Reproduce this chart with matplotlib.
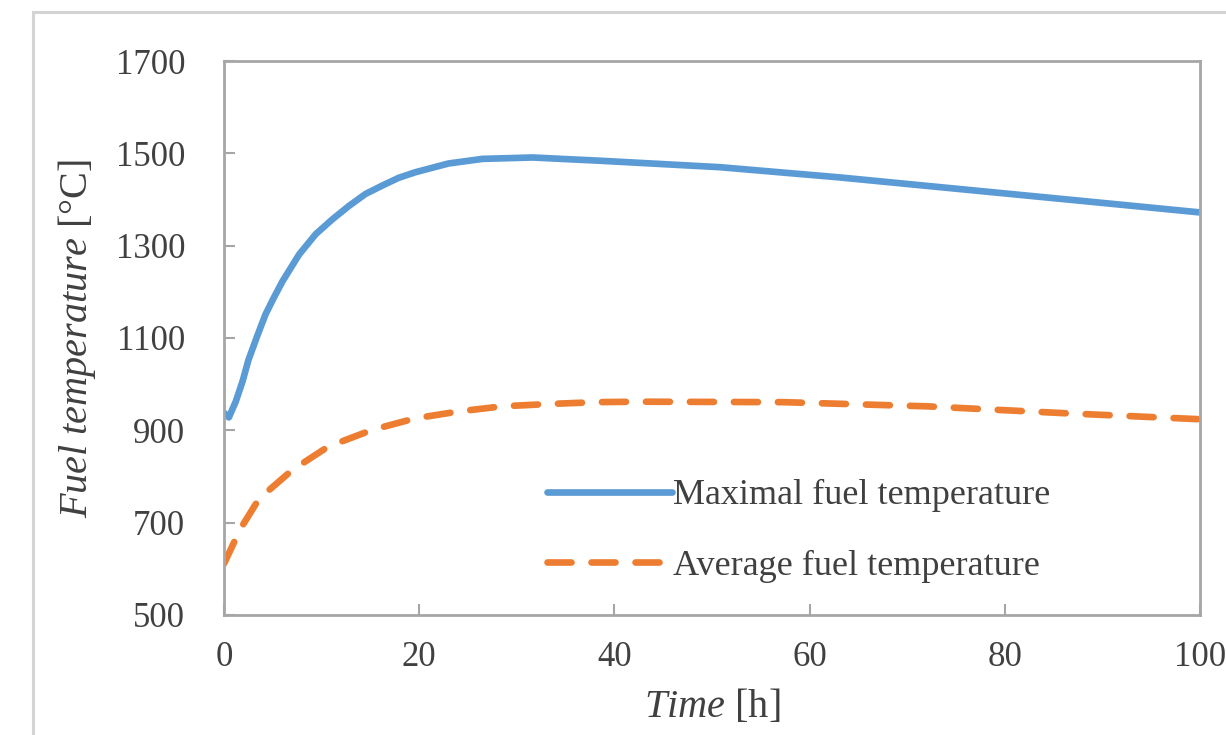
import matplotlib
matplotlib.use("Agg")
import matplotlib.pyplot as plt
from matplotlib.patches import Rectangle

# time [h] and fuel temperatures [degC]
time_max = [0, 0.5, 1.2, 1.9, 2.5, 3.4, 4.25, 5.1, 6.0, 7.7, 9.4, 11.1, 12.8,
            14.5, 16.2, 17.9, 19.6, 23.0, 26.5, 31.6, 38.5, 50.8, 63.0, 75.2,
            87.4, 100]
temp_max = [938, 928, 962, 1006, 1052, 1104, 1151, 1187, 1223, 1281, 1325, 1357,
            1386, 1412, 1430, 1447, 1459, 1478, 1488, 1491, 1484, 1470, 1448,
            1423, 1398, 1372]

time_avg = [0, 1.2, 1.9, 3.6, 7.0, 10.7, 15.2, 19.6, 24.1, 28.5, 33.3, 38.1,
            42.6, 57.3, 72.0, 86.2, 100]
temp_avg = [611, 665, 694, 752, 814, 865, 901, 926, 941, 952, 957, 961,
            962, 961, 952, 937, 924]

x_ticks = [0, 20, 40, 60, 80, 100]
y_ticks = [500, 700, 900, 1100, 1300, 1500, 1700]

plt.rcParams["font.family"] = ["Liberation Serif", "DejaVu Serif"]
plt.rcParams["mathtext.fontset"] = "custom"
plt.rcParams["mathtext.it"] = "Liberation Serif:italic"
plt.rcParams["mathtext.rm"] = "Liberation Serif"

text_col = "#404040"
spine_col = "#A6A6A6"

fig = plt.figure(figsize=(12.26, 7.35), dpi=100)
ax = fig.add_axes([0.1827, 0.1633, 0.7961, 0.7537])

# light frame around the whole chart
fig.patches.append(Rectangle((0.027, -0.05), 1.2, 0.0315 + 0.05 + 0.9522,
                             transform=fig.transFigure, fill=False,
                             edgecolor="#D4D4D4", linewidth=2.2))

ax.plot(time_max, temp_max, color="#5B9BD5", lw=4.8,
        solid_capstyle="round", solid_joinstyle="round",
        label="Maximal fuel temperature")
ax.plot(time_avg, temp_avg, color="#ED7D31", lw=4.8, dashes=(3.6, 3.0),
        dash_capstyle="round", label="Average fuel temperature")

ax.set_xlim(0, 100)
ax.set_ylim(500, 1700)
ax.set_xticks(x_ticks)
ax.set_yticks(y_ticks)

for s in ax.spines.values():
    s.set_color(spine_col)
    s.set_linewidth(2)

ax.tick_params(axis="both", direction="in", length=8, width=1.5,
               color=spine_col, labelcolor=text_col, labelsize=25)
ax.tick_params(axis="x", pad=19)
ax.tick_params(axis="y", pad=28)

ax.set_xlabel(r"$\mathit{Time}$ [h]", fontsize=29, color=text_col)
ax.set_ylabel(r"$\mathit{Fuel\ temperature}$ [°C]", fontsize=29, color=text_col)
ax.xaxis.set_label_coords(0.5, -0.132)
ax.yaxis.set_label_coords(-0.129, 0.5)

leg = ax.legend(loc="center left", bbox_to_anchor=(0.331, 0.152),
                frameon=False, fontsize=26, handlelength=3.45,
                handletextpad=0.05, labelspacing=1.03,
                borderpad=0, borderaxespad=0)
for t in leg.get_texts():
    t.set_color(text_col)

fig.savefig("out.png", dpi=100, facecolor="white")
